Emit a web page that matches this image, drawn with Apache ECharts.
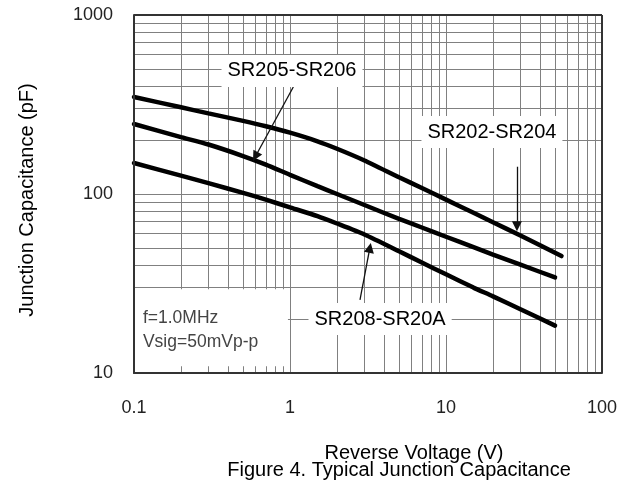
<!DOCTYPE html>
<html><head><meta charset="utf-8">
<script src="https://cdn.jsdelivr.net/npm/echarts@6/dist/echarts.min.js"></script>
<style>html,body{margin:0;padding:0;background:#fff}#c{width:630px;height:490px}</style>
</head><body><div id="c"></div>
<script>
// ---- data ----
const xTickLabels = ['0.1', '1', '10', '100'];
const yTickLabels = ['10', '100', '1000'];

const vSR202 = [0.1, 0.2, 0.3, 0.5, 0.7, 1, 1.5, 2, 3, 5, 7, 10, 15, 20, 30, 55];
const cSR202 = [348, 305, 282, 256, 239, 220, 197, 179, 154, 124, 108, 93, 78.5, 69.5, 58.6, 45];

const vSR205 = [0.1, 0.2, 0.3, 0.5, 0.7, 1, 1.5, 2, 3, 5, 7, 10, 15, 20, 30, 50];
const cSR205 = [246, 208, 189, 163, 146, 128, 110.6, 100, 86.8, 72.6, 65, 57.7, 50.5, 45.9, 40.3, 34.2];

const vSR208 = [0.1, 0.2, 0.3, 0.5, 0.7, 1, 1.5, 2, 3, 5, 7, 10, 15, 20, 30, 50];
const cSR208 = [149, 126.7, 115, 101.5, 93, 84.2, 75.2, 68.4, 59.4, 47.9, 41.4, 35.6, 30, 26.8, 22.7, 18.4];

const xMinorGrid = [0.2,0.3,0.4,0.5,0.6,0.7,0.8,0.9,1,2,3,4,5,6,7,8,9,10,20,30,40,50,60,70,80,90];
const yMinorGrid = [20,30,40,50,60,70,80,90,100,200,300,400,500,600,700,800,900];

// annotation texts with their anchor points in data coordinates
const labelTexts = ['SR205-SR206', 'SR202-SR204', 'SR208-SR20A'];
const labelAt = [[1.03, 487], [19.7, 222], [3.78, 20]];
const arrowFrom = [[1.05, 396], [28.5, 142], [2.81, 25.6]];
const arrowTo = [[0.6, 162], [28.5, 66], [3.25, 50]];
const noteText = 'f=1.0MHz\nVsig=50mVp-p';
const noteAt = [0.106, 17.4];
const noteBox = [[0.101, 10.9], [0.97, 29.4]];

const FONT = "'Liberation Sans', Arial, sans-serif";
const zip = (a, b) => a.map((v, i) => [v, b[i]]);

const chart = echarts.init(document.getElementById('c'), null, {renderer: 'canvas'});

const curveStyle = {color: '#000', width: 4.5, cap: 'round'};

const option = {
  animation: false,
  backgroundColor: '#fff',
  grid: {left: 134, right: 28, top: 15, bottom: 117},
  xAxis: {
    type: 'log', logBase: 10, min: 0.1, max: 100, z: 10,
    axisLine: {show: true, lineStyle: {color: '#333', width: 2}},
    axisTick: {show: false},
    splitLine: {show: false},
    axisLabel: {fontFamily: FONT, fontSize: 18, color: '#222', margin: 26,
      formatter: v => xTickLabels.find(t => Math.abs(parseFloat(t) - v) < 1e-9 * Math.max(1, v)) || ''},
    name: 'Reverse Voltage (V)', nameLocation: 'middle', nameGap: 70,
    nameTextStyle: {fontFamily: FONT, fontSize: 20, color: '#000', padding: [0, 0, 0, 92]}
  },
  yAxis: {
    type: 'log', logBase: 10, min: 10, max: 1000, z: 10,
    axisLine: {show: true, lineStyle: {color: '#333', width: 2}},
    axisTick: {show: false},
    splitLine: {show: false},
    axisLabel: {fontFamily: FONT, fontSize: 18, color: '#222', margin: 21,
      formatter: v => yTickLabels.find(t => Math.abs(parseFloat(t) - v) < 1e-6 * v) || ''},
    name: 'Junction Capacitance (pF)', nameLocation: 'middle', nameGap: 97,
    nameTextStyle: {fontFamily: FONT, fontSize: 20, color: '#000', padding: [0, 12, 0, 0]}
  },
  graphic: [{
    type: 'text', x: 399, y: 470, z: 20,
    style: {text: 'Figure 4. Typical Junction Capacitance', font: '20px ' + FONT, fill: '#000',
      align: 'center', verticalAlign: 'middle'}
  }],
  series: [
    {
      name: 'grid', type: 'line', data: [[0.1, 10]], symbol: 'none', silent: true,
      lineStyle: {width: 0}, z: 1,
      markLine: {
        silent: true, symbol: 'none', z: 1, animation: false,
        label: {show: false},
        lineStyle: {color: '#808080', width: 1, type: 'solid'},
        data: xMinorGrid.map(v => ({xAxis: v}))
          .concat(yMinorGrid.map(v => ({yAxis: v})))
          .concat([{xAxis: 100, lineStyle: {color: '#333', width: 2, type: 'solid'}},
                   {yAxis: 1000, lineStyle: {color: '#333', width: 2, type: 'solid'}}])
      },
      markArea: {
        silent: true, z: 2,
        itemStyle: {color: '#fff', opacity: 1},
        data: [[{coord: noteBox[0]}, {coord: noteBox[1]}]]
      }
    },
    {name: 'SR202-SR204', type: 'line', data: zip(vSR202, cSR202), symbol: 'none', smooth: 0.2, lineStyle: curveStyle, z: 3},
    {name: 'SR205-SR206', type: 'line', data: zip(vSR205, cSR205), symbol: 'none', smooth: 0.2, lineStyle: curveStyle, z: 3},
    {name: 'SR208-SR20A', type: 'line', data: zip(vSR208, cSR208), symbol: 'none', smooth: 0.2, lineStyle: curveStyle, z: 3,
      markLine: {
        silent: true, z: 4, symbol: ['none', 'triangle'], symbolSize: 10,
        label: {show: false},
        lineStyle: {color: '#111', width: 1.3, type: 'solid'},
        itemStyle: {color: '#111'},
        data: arrowFrom.map((f, i) => [{coord: f}, {coord: arrowTo[i]}])
      },
      markPoint: {
        silent: true, z: 5, symbol: 'circle', symbolSize: 0,
        data: labelTexts.map((t, i) => ({
          coord: labelAt[i], value: t,
          label: {show: true, position: 'inside', formatter: t, fontFamily: FONT, fontSize: 20, color: '#000',
            backgroundColor: '#fff', padding: [6, 6]}
        })).concat([{
          coord: noteAt, value: 0,
          label: {show: true, position: 'right', distance: 5, align: 'left', formatter: noteText,
            fontFamily: FONT, fontSize: 17.5, color: '#444', lineHeight: 24}
        }])
      }
    }
  ]
};
chart.setOption(option);
</script></body></html>
